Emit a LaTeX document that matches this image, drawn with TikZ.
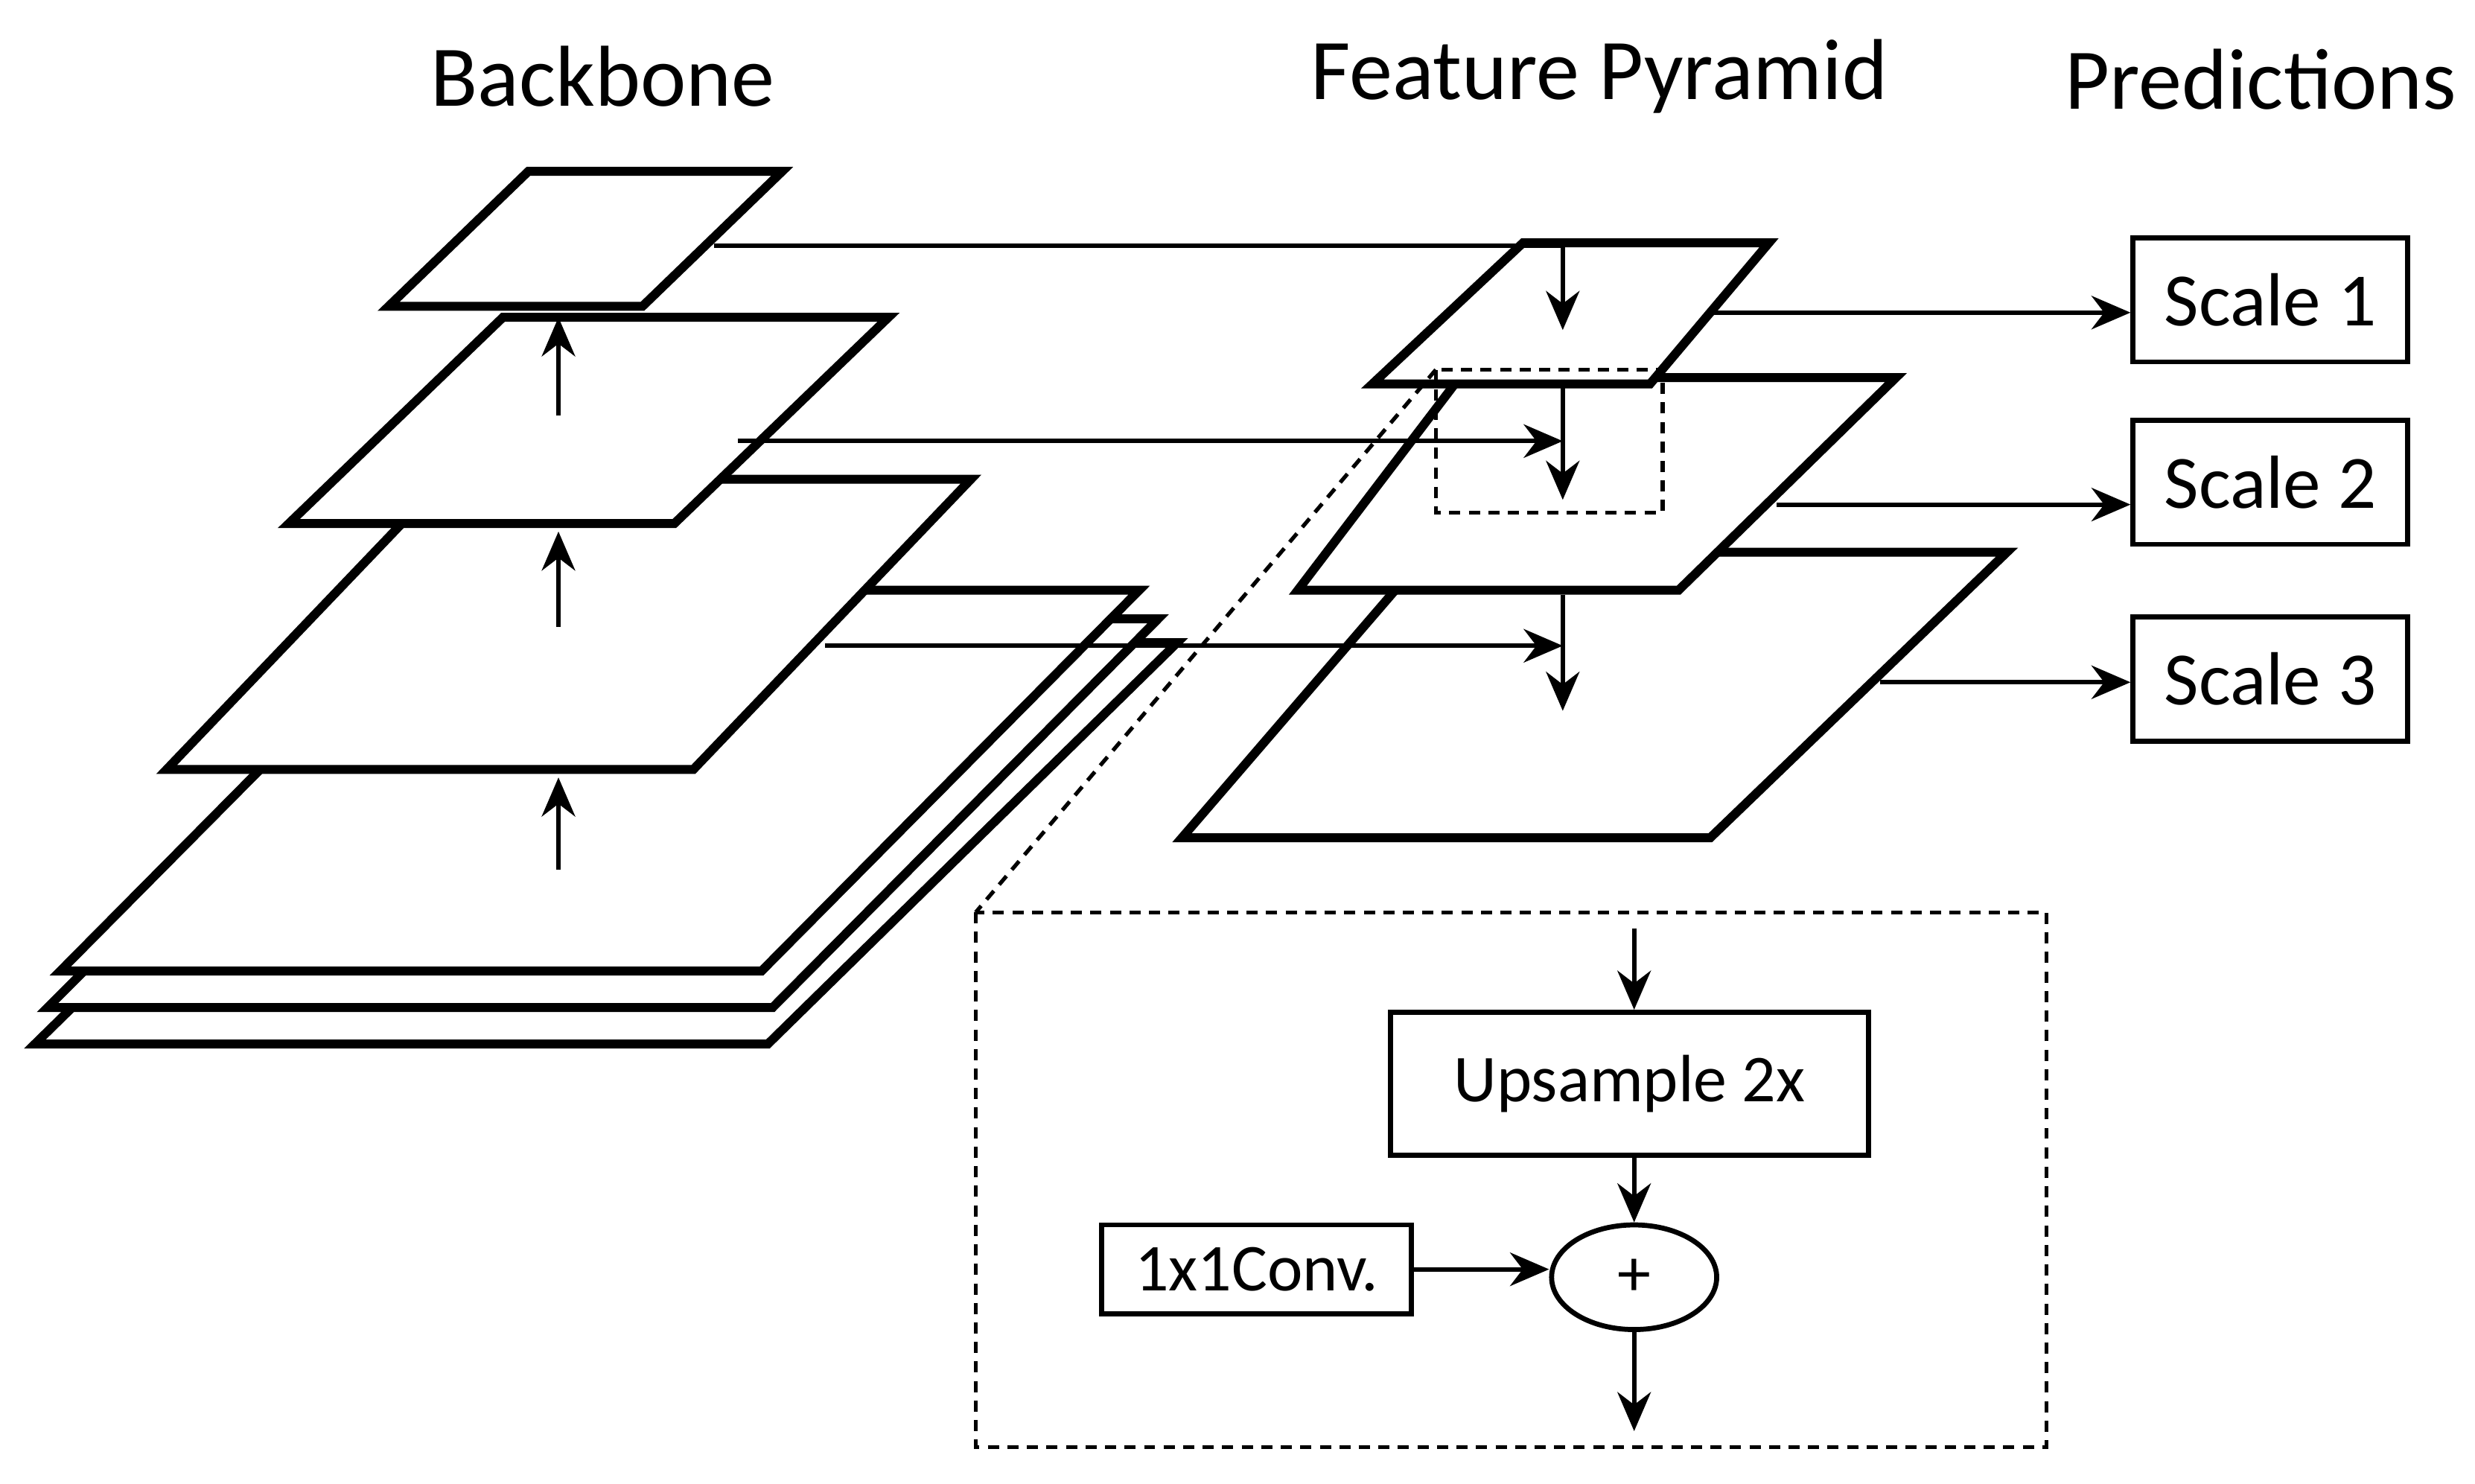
\documentclass[tikz,border=0pt]{standalone}
\usepackage{fontspec}
\setmainfont{Carlito}
\usetikzlibrary{shapes.geometric,arrows.meta}

\begin{document}
\begin{tikzpicture}[x=0.01cm,y=-0.01cm,
    layer/.style={line width=1.6pt,fill=white,line join=miter},
    link/.style={line width=0.8pt,-{Stealth[length=7pt,width=6pt]}},
    box/.style={draw,line width=0.9pt,rectangle,inner sep=0pt},
    zoomline/.style={line width=0.7pt,dash pattern=on 2pt off 1.5pt}]
            \useasboundingbox (0,0) rectangle (1560,935);
            % titles
            \node (tb) at (380,48) {\fontsize{15.5}{18}\selectfont Backbone};
            \node (tf) at (1008,48) {\fontsize{15.5}{18}\selectfont Feature Pyramid};
            \node (tp) at (1425,50) {\fontsize{15.5}{18}\selectfont Predictions};
            % backbone
            \draw[layer] (22,658) -- (484,658) -- (742,405) -- (280,405) -- cycle;
            \draw[layer] (30,635) -- (487,635) -- (730,390) -- (275,390) -- cycle;
            \draw[layer] (38,612) -- (480,612) -- (718,372) -- (276,372) -- cycle;
            \draw[layer] (105,485) -- (437,485) -- (612,302) -- (280,302) -- cycle;
            \draw[layer] (182,330) -- (425,330) -- (560,200) -- (317,200) -- cycle;
            \draw[layer] (245,193) -- (405,193) -- (493,108) -- (333,108) -- cycle;
            \foreach \a/\b in {548/490, 395/335, 262/200}
                \draw[link] (352,\a) -- (352,\b);
            % feature pyramid
            \draw[layer] (745,528) -- (1078,528) -- (1265,348) -- (900,348) -- cycle;
            \draw[layer] (818,372) -- (1058,372) -- (1195,238) -- (920,238) -- cycle;
            \draw[layer] (865,242) -- (1040,242) -- (1115,153) -- (960,153) -- cycle;
            % lateral connections
            \draw[line width=0.8pt] (450,155) -- (985,155);
            \draw[link] (985,155) -- (985,208);
            \draw[link] (465,278) -- (985,278);
            \draw[link] (985,240) -- (985,315);
            \draw[link] (520,407) -- (985,407);
            \draw[link] (985,375) -- (985,448);
            % predictions
            \node[box,minimum width=1.73cm,minimum height=0.78cm] (s1) at (1431,189) {\fontsize{13.5}{16}\selectfont Scale 1};
            \node[box,minimum width=1.73cm,minimum height=0.78cm] (s2) at (1431,304) {\fontsize{13.5}{16}\selectfont Scale 2};
            \node[box,minimum width=1.73cm,minimum height=0.78cm] (s3) at (1431,428) {\fontsize{13.5}{16}\selectfont Scale 3};
            \coordinate (p1) at (1075,197);
            \coordinate (p2) at (1120,318);
            \coordinate (p3) at (1185,430);
            \draw[link] (p1) -- (p1 -| s1.west);
            \draw[link] (p2) -- (p2 -| s2.west);
            \draw[link] (p3) -- (p3 -| s3.west);
            % zoomed merge block
            \draw[zoomline] (905,233) rectangle (1048,323);
            \draw[zoomline] (615,575) rectangle (1290,912);
            \draw[zoomline] (905,233) -- (615,575);
            \node[box,minimum width=3.01cm,minimum height=0.9cm] (up) at (1027,683) {\fontsize{12}{14}\selectfont Upsample 2x};
            \node[box,minimum width=1.95cm,minimum height=0.56cm] (conv) at (792,800) {\fontsize{12}{14}\selectfont 1x1Conv.};
            \node[draw,ellipse,line width=0.9pt,minimum width=1.04cm,minimum height=0.6cm] (add) at (1030,805) {\fontsize{12}{14}\selectfont +};
            \coordinate (in) at (1030,585);
            \coordinate (out) at (1030,902);
            \draw[link] (in) -- (up.north -| in);
            \draw[link] (up.south -| add) -- (add.north);
            \draw[link] (conv.east) -- (conv.east -| add.west);
            \draw[link] (add) -- (out);
        \end{tikzpicture}
\end{document}
